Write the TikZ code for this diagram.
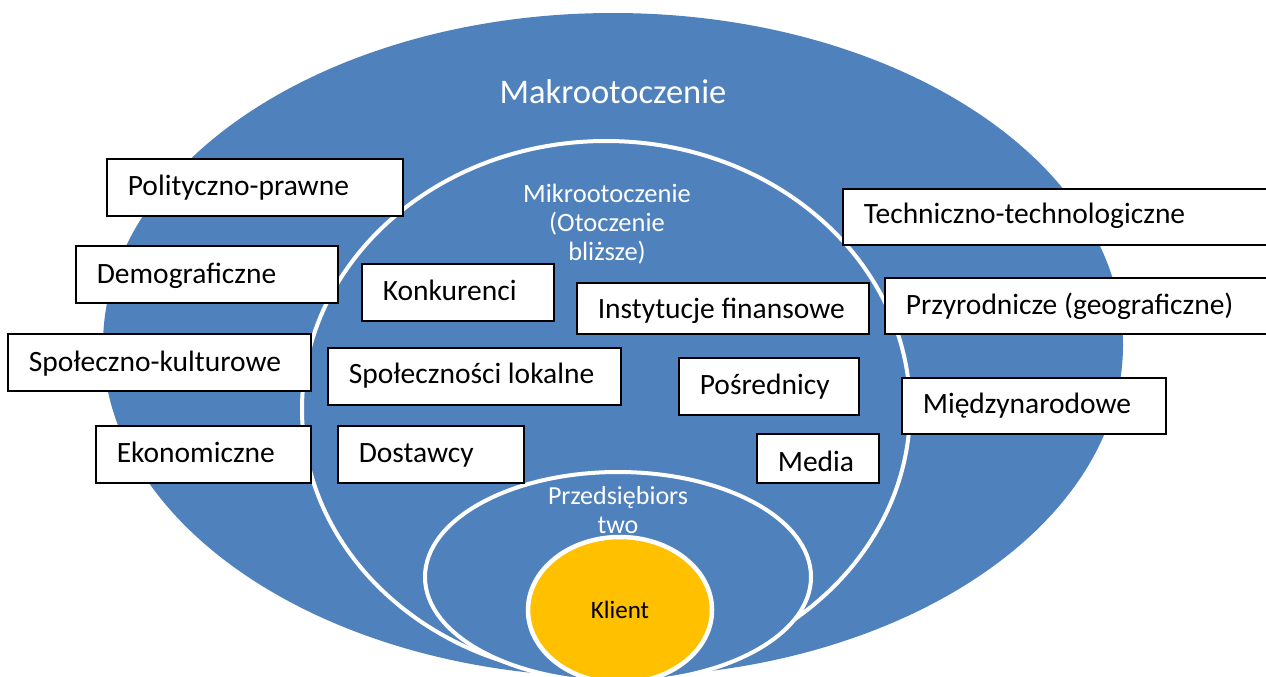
\documentclass[tikz,border=0pt]{standalone}
\usepackage{fontspec}
\setmainfont{Carlito}
\definecolor{macroblue}{HTML}{4F81BD}
\definecolor{clientgold}{HTML}{FFC000}

\begin{document}
\begin{tikzpicture}[x=1pt,y=-1pt,
  box/.style={draw=black, line width=1.6pt, fill=white, anchor=north west,
    inner xsep=21pt, inner ysep=0pt, align=flush left,
    font=\fontsize{29.5}{35}\selectfont},
  ring/.style={draw=white, line width=4pt, fill=macroblue},
  heading/.style={text=white, align=center, inner sep=0pt}
]
\useasboundingbox (0,0) rectangle (1266,677);

\begin{scope}
  \clip (0,0) rectangle (1266,677);
  % nested environments
  \fill[macroblue] (613,345) ellipse [x radius=510pt, y radius=332pt];
  \draw[ring] (606,409) ellipse [x radius=304pt, y radius=268pt];
  \draw[ring] (618,577) ellipse [x radius=193pt, y radius=105pt];
  \draw[draw=white, line width=4.5pt, fill=clientgold] (620,610) ellipse [x radius=92pt, y radius=73pt];

  % macro-environment factors
  \node[box, text width=254pt, text height=37pt, text depth=20pt] (pol) at (106,158) {Polityczno-prawne};
  \node[box, text width=220pt, text height=38pt, text depth=19pt] (dem) at (75,245) {Demograficzne};
  \node[box, text width=261pt, text height=38pt, text depth=19pt] (spk) at (7,333) {Społeczno-kulturowe};
  \node[box, text width=173pt, text height=37pt, text depth=20pt] (eko) at (95,425) {Ekonomiczne};
  \node[box, text width=386pt, text height=35pt, text depth=21pt] (tech) at (842,188) {Techniczno-technologiczne};
  \node[box, text width=344pt, text height=37pt, text depth=19pt] (prz) at (884,277) {Przyrodnicze (geograficzne)};
  \node[box, text width=222pt, text height=36pt, text depth=20pt] (mie) at (901,377) {Międzynarodowe};

  % micro-environment actors
  \node[box, text width=150pt, text height=37pt, text depth=20pt] (kon) at (361,263) {Konkurenci};
  \node[box, text width=250pt, text height=36pt, text depth=15pt] (ins) at (576,282) {Instytucje finansowe};
  \node[box, text width=251pt, text height=36pt, text depth=21pt] (spl) at (327,347) {Społeczności lokalne};
  \node[box, text width=138pt, text height=37pt, text depth=20pt] (pos) at (678,357) {Pośrednicy};
  \node[box, text width=144pt, text height=37pt, text depth=20pt] (dos) at (337,425) {Dostawcy};
  \node[box, text width=80pt, text height=38pt, text depth=11pt] (med) at (756,433) {Media};
\end{scope}

% ring titles (anchored on the baseline of the last line)
\node[heading, anchor=base, font=\fontsize{34.5}{40}\selectfont] (makro) at (613,103) {Makrootoczenie};
\node[heading, anchor=base, font=\fontsize{26.5}{29}\selectfont] (mikro) at (607,260) {Mikrootoczenie\\(Otoczenie\\bliższe)};
\node[heading, anchor=base, font=\fontsize{26}{29}\selectfont] (przed) at (618,533) {Przedsiębiors\\two};
\node[anchor=base, inner sep=0pt, font=\fontsize{25}{30}\selectfont] (klient) at (620,618) {Klient};
\end{tikzpicture}
\end{document}
